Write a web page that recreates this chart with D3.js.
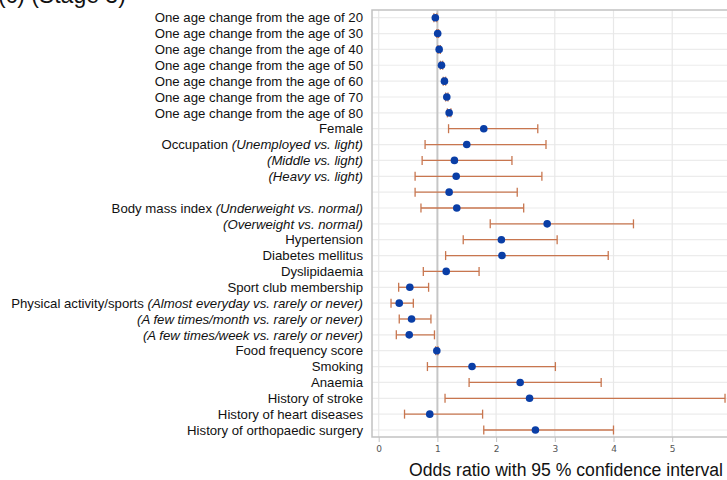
<!DOCTYPE html>
<html>
<head>
<meta charset="utf-8">
<script src="https://cdn.jsdelivr.net/npm/d3@7"></script>
<style>
  body { margin: 0; background: #fff; }
  svg { display: block; font-family: "Liberation Sans", Arial, sans-serif; }
</style>
</head>
<body>
<svg id="chart" width="727" height="480"></svg>
<script>
// row labels: plain part and italic part
const labelMain = [
  "One age change from the age of 20", "One age change from the age of 30",
  "One age change from the age of 40", "One age change from the age of 50",
  "One age change from the age of 60", "One age change from the age of 70",
  "One age change from the age of 80", "Female", "Occupation ", "", "", "",
  "Body mass index ", "", "Hypertension", "Diabetes mellitus", "Dyslipidaemia",
  "Sport club membership", "Physical activity/sports ", "", "",
  "Food frequency score", "Smoking", "Anaemia", "History of stroke",
  "History of heart diseases", "History of orthopaedic surgery"
];
const labelItalic = [
  "", "", "", "", "", "", "", "", "(Unemployed vs. light)", "(Middle vs. light)",
  "(Heavy vs. light)", "", "(Underweight vs. normal)", "(Overweight vs. normal)",
  "", "", "", "", "(Almost everyday vs. rarely or never)",
  "(A few times/month vs. rarely or never)", "(A few times/week vs. rarely or never)",
  "", "", "", "", "", ""
];
const oddsRatio = [0.965, 1.005, 1.03, 1.07, 1.12, 1.16, 1.20, 1.79, 1.50, 1.29, 1.32, 1.20,
  1.33, 2.87, 2.09, 2.10, 1.15, 0.53, 0.35, 0.56, 0.52, 0.99, 1.59, 2.41, 2.57, 0.87, 2.67];
const ciLow = [0.94, 0.99, 1.01, 1.05, 1.10, 1.14, 1.17, 1.19, 0.79, 0.74, 0.62, 0.62,
  0.72, 1.90, 1.44, 1.14, 0.76, 0.34, 0.21, 0.35, 0.30, 0.97, 0.83, 1.54, 1.13, 0.44, 1.79];
const ciHigh = [0.99, 1.02, 1.05, 1.09, 1.14, 1.18, 1.23, 2.71, 2.85, 2.27, 2.78, 2.36,
  2.47, 4.34, 3.04, 3.91, 1.71, 0.85, 0.59, 0.89, 0.95, 1.01, 3.01, 3.79, 5.90, 1.77, 4.00];
const xTicks = [0, 1, 2, 3, 4, 5];

const rows = labelMain.map((m, i) => ({ i, main: m, ital: labelItalic[i], or: oddsRatio[i], lo: ciLow[i], hi: ciHigh[i] }));

const svg = d3.select("#chart");
const x = d3.scaleLinear().domain([0, 6]).range([378.7, 730.9]);
const y = d3.scalePoint().domain(rows.map(d => d.i)).range([17.7, 430]);
const plotLeft = x(-0.114), plotTop = 10, plotBottom = 437;

// title (cut off at the top, as in the source figure)
svg.append("text").attr("x", -2).attr("y", 3)
  .attr("font-size", 23).attr("fill", "#111").text("(c) (Stage 3)");

// grid
svg.append("g").selectAll("line").data(rows).enter().append("line")
  .attr("x1", plotLeft).attr("x2", 727).attr("y1", d => y(d.i)).attr("y2", d => y(d.i))
  .attr("stroke", "#ececec").attr("stroke-width", 1.2);
svg.append("g").selectAll("line").data(xTicks.filter(t => t !== 1)).enter().append("line")
  .attr("x1", d => x(d)).attr("x2", d => x(d)).attr("y1", plotTop).attr("y2", plotBottom)
  .attr("stroke", "#e8e8e8").attr("stroke-width", 1.2);
// reference line at 1
svg.append("line").attr("x1", x(1)).attr("x2", x(1)).attr("y1", plotTop).attr("y2", plotBottom)
  .attr("stroke", "#c6c6c6").attr("stroke-width", 2);

// frame
svg.append("path").attr("d", `M727,${plotTop}H${plotLeft}V${plotBottom}H727`)
  .attr("fill", "none").attr("stroke", "#c2c2c2").attr("stroke-width", 1.5);

// x axis
const xAxis = svg.append("g").attr("transform", `translate(0,${plotBottom})`)
  .call(d3.axisBottom(x).tickValues(xTicks).tickSize(5).tickPadding(4).tickFormat(d3.format("d")));
xAxis.select(".domain").remove();
xAxis.selectAll("line").attr("stroke", "#c2c2c2");
xAxis.selectAll("text").attr("fill", "#555").attr("font-size", 9)
  .attr("font-family", "'DejaVu Sans', sans-serif");

svg.append("text").attr("x", 723).attr("y", 476).attr("text-anchor", "end")
  .attr("font-size", 17.6).attr("fill", "#111").text("Odds ratio with 95 % confidence interval");

// row labels
const lab = svg.append("g").selectAll("text").data(rows).enter().append("text")
  .attr("x", 363).attr("y", d => y(d.i)).attr("dy", "0.36em")
  .attr("text-anchor", "end").attr("font-size", 13.2).attr("fill", "#111");
lab.append("tspan").text(d => d.main);
lab.append("tspan").attr("font-style", "italic").text(d => d.ital);

// error bars
const eb = svg.append("g").selectAll("g").data(rows).enter().append("g")
  .attr("stroke", "#c8764f").attr("stroke-width", 1.3);
eb.append("line").attr("x1", d => x(d.lo)).attr("x2", d => x(d.hi))
  .attr("y1", d => y(d.i)).attr("y2", d => y(d.i));
eb.append("line").attr("x1", d => x(d.lo)).attr("x2", d => x(d.lo))
  .attr("y1", d => y(d.i) - 4.5).attr("y2", d => y(d.i) + 4.5);
eb.append("line").attr("x1", d => x(d.hi)).attr("x2", d => x(d.hi))
  .attr("y1", d => y(d.i) - 4.5).attr("y2", d => y(d.i) + 4.5);

// points
svg.append("g").selectAll("circle").data(rows).enter().append("circle")
  .attr("cx", d => x(d.or)).attr("cy", d => y(d.i)).attr("r", 3.8)
  .attr("fill", "#0a3ea6");
</script>
</body>
</html>
